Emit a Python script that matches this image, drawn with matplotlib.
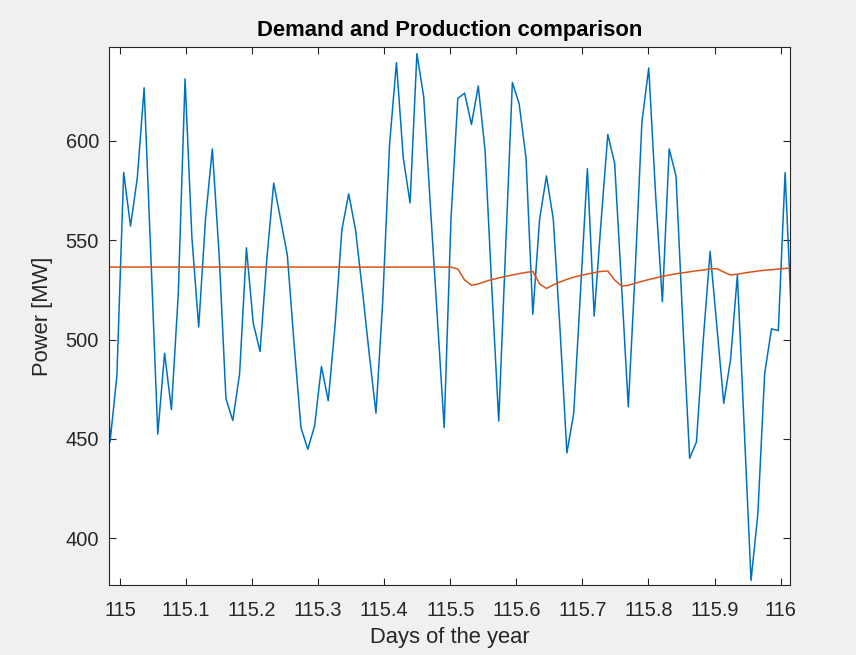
import numpy as np
import matplotlib.pyplot as plt

# 15-minute-ish samples, first sample just left of the axis window
t_start = 114.9746
t_step = 0.010322

demand = [
    550.0, 448.3, 481.7, 584.2, 557.1, 581.5, 626.8, 540.8, 452.4, 493.1,
    464.7, 522.6, 631.3, 551.6, 506.3, 560.7, 596.0, 542.6, 470.1, 459.2,
    482.8, 546.2, 508.2, 494.0, 540.8, 578.8, 560.7, 542.6, 497.3, 455.6,
    444.7, 456.5, 486.4, 469.2, 507.2, 555.3, 573.4, 555.3, 525.0, 493.0,
    462.9, 520.0, 598.7, 639.5, 591.5, 568.8, 644.0, 622.3, 566.0, 511.0,
    455.6, 560.7, 621.4, 624.1, 608.3, 627.7, 595.1, 525.0, 458.9, 545.0,
    629.5, 618.7, 591.5, 512.7, 560.7, 582.4, 560.7, 504.5, 442.9, 462.9,
    524.5, 586.1, 511.8, 558.9, 603.3, 588.8, 528.1, 466.1, 533.5, 609.6,
    636.8, 573.4, 519.0, 596.0, 582.4, 508.2, 440.2, 448.4, 500.0, 544.4,
    506.3, 467.9, 490.0, 532.6, 455.6, 378.6, 412.1, 482.8, 505.4, 504.5,
    584.1, 506.0,
]

production = [
    536.5, 536.5, 536.5, 536.5, 536.5, 536.5, 536.5, 536.5, 536.5, 536.5,
    536.5, 536.5, 536.5, 536.5, 536.5, 536.5, 536.5, 536.5, 536.5, 536.5,
    536.5, 536.5, 536.5, 536.5, 536.5, 536.5, 536.5, 536.5, 536.5, 536.5,
    536.5, 536.5, 536.5, 536.5, 536.5, 536.5, 536.5, 536.5, 536.5, 536.5,
    536.5, 536.5, 536.5, 536.5, 536.5, 536.5, 536.5, 536.5, 536.5, 536.5,
    536.5, 536.5, 535.5, 530.0, 527.3, 528.0, 529.2, 530.2, 531.0, 531.8,
    532.5, 533.2, 533.8, 534.3, 528.0, 525.7, 527.5, 529.0, 530.3, 531.4,
    532.3, 533.0, 533.7, 534.3, 534.5, 530.0, 527.0, 527.3, 528.3, 529.3,
    530.2, 531.0, 531.8, 532.5, 533.1, 533.6, 534.1, 534.6, 535.0, 535.6,
    535.7, 534.0, 532.5, 532.9, 533.5, 534.0, 534.5, 534.9, 535.2, 535.5,
    535.8, 536.0,
]

xtick_labels = ['115', '115.1', '115.2', '115.3', '115.4', '115.5',
                '115.6', '115.7', '115.8', '115.9', '116']

days = t_start + np.arange(len(demand)) * t_step

plt.rcParams['font.family'] = ['Liberation Sans', 'DejaVu Sans']

fig = plt.figure(figsize=(8.56, 6.55), dpi=100, facecolor='#f0f0f0')
ax = fig.add_axes([0.1270, 0.1064, 0.7959, 0.8211])
ax.set_facecolor('white')

ax.plot(days, demand, color='#0072bd', lw=1.1)
ax.plot(days, production, color='#d95319', lw=1.1)

ax.set_xlim(114.9829, 116.0142)
ax.set_ylim(376.2, 647.1)
ax.set_xticks(np.linspace(115, 116, len(xtick_labels)))
ax.set_xticklabels(xtick_labels)
ax.set_yticks([400, 450, 500, 550, 600])

dark = '#262626'
ax.tick_params(direction='in', length=5, width=0.8, colors=dark,
               labelsize=14.4, top=True, right=True)
ax.tick_params(axis='x', pad=11)
ax.tick_params(axis='y', pad=7)
for s in ax.spines.values():
    s.set_color(dark)
    s.set_linewidth(0.8)

ax.set_xlabel('Days of the year', fontsize=15.8, color=dark, labelpad=5)
ax.set_ylabel('Power [MW]', fontsize=15.8, color=dark, labelpad=9)
ax.set_title('Demand and Production comparison', fontsize=15.8,
             fontweight='bold', color='black', pad=8)

fig.savefig('out.png', dpi=100, facecolor=fig.get_facecolor())
